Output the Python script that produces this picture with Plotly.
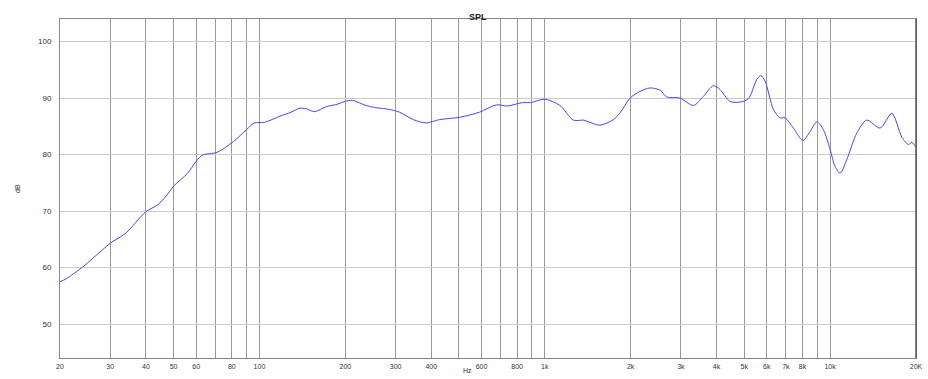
import plotly.graph_objects as go

# frequency response
freq_hz = [20, 21, 24, 26, 30, 34, 40, 44, 47, 50, 56, 60, 63, 71, 81, 90, 96, 104,
           118, 129, 138, 146, 156, 172, 187, 199, 212, 236, 256, 285, 310, 346, 384,
           428, 503, 590, 676, 740, 834, 891, 1000, 1130, 1260, 1370, 1440, 1562, 1740,
           1836, 1990, 2158, 2339, 2536, 2677, 2980, 3318, 3596, 3898, 4116, 4462, 4836,
           5172, 5534, 5716, 5918, 6328, 6680, 6954, 7438, 8022, 8512, 8984, 9474,
           10000, 10410, 10840, 11440, 12400, 13440, 14970, 16460, 17840, 18810, 19330,
           19860, 20000]
spl_db = [57.5, 58.0, 60.1, 61.6, 64.3, 66.1, 69.9, 71.1, 72.6, 74.4, 76.7, 78.8, 79.9,
          80.4, 82.3, 84.4, 85.6, 85.7, 86.8, 87.5, 88.2, 88.1, 87.6, 88.5, 88.9, 89.4,
          89.6, 88.7, 88.3, 88.0, 87.5, 86.2, 85.6, 86.2, 86.6, 87.5, 88.8, 88.6, 89.2,
          89.2, 89.8, 88.7, 86.1, 86.1, 85.7, 85.2, 86.2, 87.4, 90.0, 91.2, 91.8, 91.4,
          90.2, 90.0, 88.7, 90.3, 92.2, 91.5, 89.4, 89.3, 89.9, 93.3, 94.0, 93.0, 88.0,
          86.5, 86.5, 84.7, 82.5, 84.1, 85.8, 84.4, 80.9, 77.9, 76.7, 79.1, 83.8, 86.1,
          84.7, 87.3, 83.1, 81.8, 82.2, 81.5, 81.3]

# grid lines and labels of the x axis
x_tickvals = [20, 30, 40, 50, 60, 70, 80, 90, 100, 200, 300, 400, 500, 600, 700, 800, 900,
              1000, 2000, 3000, 4000, 5000, 6000, 7000, 8000, 9000, 10000, 20000]
x_ticktext = ['20', '30', '40', '50', '60', '', '80', '', '100', '200', '300', '400', '',
              '600', '', '800', '', '1k', '2k', '3k', '4k', '5k', '6k', '7k', '8k', '',
              '10k', '20K']
y_tickvals = [50, 60, 70, 80, 90, 100]

fig = go.Figure()

fig.add_trace(
    go.Scatter(
        x=freq_hz,
        y=spl_db,
        mode='lines',
        line=dict(color='rgb(70,70,255)', width=1, shape='spline', smoothing=0.8),
        showlegend=False,
    )
)

fig.update_layout(
    width=928,
    height=379,
    margin=dict(l=60, r=12, t=19, b=21),
    paper_bgcolor='white',
    plot_bgcolor='white',
    font=dict(family='Liberation Sans, Arial, sans-serif', size=7, color='#333'),
    xaxis=dict(
        type='log',
        range=[1.30103, 4.30103],
        tickvals=x_tickvals,
        ticktext=x_ticktext,
        showgrid=True,
        gridcolor='#999999',
        gridwidth=1,
        showline=True,
        linecolor='#888888',
        mirror=True,
        ticks='',
        ticklabelstandoff=2,
        zeroline=False,
        automargin=False,
        tickfont=dict(size=7, color='#333'),
    ),
    yaxis=dict(
        range=[44, 104],
        tickvals=y_tickvals,
        showgrid=True,
        gridcolor='#cccccc',
        showline=True,
        linecolor='#888888',
        mirror=True,
        ticks='',
        ticklabelstandoff=6,
        zeroline=False,
        automargin=False,
        tickfont=dict(size=8, color='#333'),
    ),
)

# darker right edge of the frame
fig.add_shape(type='line', xref='paper', yref='paper', x0=1, x1=1, y0=0, y1=1,
              line=dict(color='#555555', width=1.5))

fig.add_annotation(text='<b>SPL</b>', xref='paper', yref='paper', x=0.488, y=1,
                   yshift=9, showarrow=False, font=dict(size=9, color='#222'))
fig.add_annotation(text='Hz', xref='paper', yref='paper', x=0.4755, y=0,
                   yshift=-18, showarrow=False, font=dict(size=7, color='#333'))
fig.add_annotation(text='dB', xref='paper', yref='paper', x=0, y=0.5,
                   xshift=-48, textangle=-90, showarrow=False, font=dict(size=7, color='#333'))

# page has default body margin; remove it so the figure sits at the top-left corner
fig.write_html("out.html", config={'displayModeBar': False},
               post_script="document.body.style.margin='0';")
